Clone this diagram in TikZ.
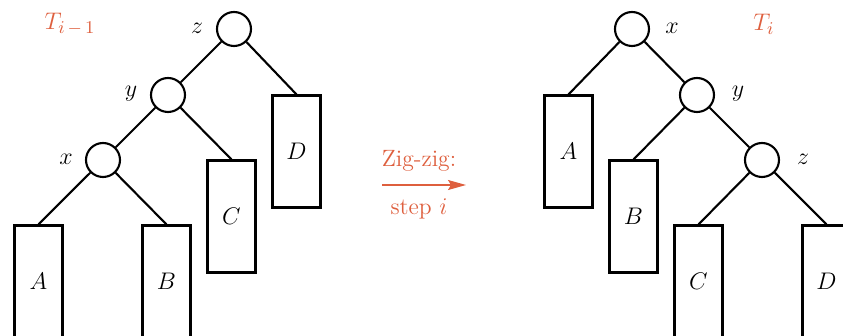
\documentclass[tikz,border=0pt]{standalone}
\usetikzlibrary{arrows.meta}
\definecolor{accent}{RGB}{222,95,62}
\begin{document}
\begin{tikzpicture}[x=0.5pt,y=-0.5pt,
  every node/.style={font=\fontsize{12.5}{15}\selectfont},
  vert/.style={circle,draw,line width=1.05pt,minimum size=17pt,inner sep=0pt},
  sub/.style={rectangle,draw,line width=1.05pt,minimum width=24pt,minimum height=56pt,inner sep=0pt},
  edge/.style={line width=1.05pt},
  lab/.style={inner sep=0pt},
  arrlab/.style={inner sep=0pt,text=accent,font=\fontsize{11.8}{14}\selectfont}]
\useasboundingbox (0,0) rectangle (843,336);
\clip (0,0) rectangle (843,336);
% left tree
\node[vert] (lz) at (234,29) {};
\node[vert] (ly) at (168,95) {};
\node[vert] (lx) at (103,160) {};
\node[sub] (lA) at (38.5,281.5) {$A$};
\node[sub] (lB) at (166.5,281.5) {$B$};
\node[sub] (lC) at (231.5,216.5) {$C$};
\node[sub] (lD) at (296.5,151.5) {$D$};
\node[lab] (lzl) at (197,28) {$z$};
\node[lab] (lyl) at (131,94) {$y$};
\node[lab] (lxl) at (66,159) {$x$};
\node[lab,text=accent] (lT) at (70,24) {$T_{i\,-\,1}$};
\draw[edge] (lz) -- (ly);
\draw[edge] (lz) -- (lD.north);
\draw[edge] (ly) -- (lx);
\draw[edge] (ly) -- (lC.north);
\draw[edge] (lx) -- (lA.north);
\draw[edge] (lx) -- (lB.north);
% arrow
\coordinate (a1) at (382,185);
\coordinate (a2) at (466,185);
\draw[accent,line width=0.6pt,-{Stealth[length=9pt,width=5pt,inset=1.5pt]}] (a1) -- (a2);
\node[arrlab] (zz) at (419,161) {Zig-zig:};
\node[arrlab] (st) at (419,209) {step $i$};
% right tree
\node[vert] (rx) at (632,29) {};
\node[vert] (ry) at (697,95) {};
\node[vert] (rz) at (762,160) {};
\node[sub] (rA) at (568.5,151.5) {$A$};
\node[sub] (rB) at (633.5,216.5) {$B$};
\node[sub] (rC) at (698.5,281.5) {$C$};
\node[sub] (rD) at (826.5,281.5) {$D$};
\node[lab] (rxl) at (672,28) {$x$};
\node[lab] (ryl) at (738,94) {$y$};
\node[lab] (rzl) at (803,159) {$z$};
\node[lab,text=accent] (rT) at (764,24) {$T_{i}$};
\draw[edge] (rx) -- (rA.north);
\draw[edge] (rx) -- (ry);
\draw[edge] (ry) -- (rB.north);
\draw[edge] (ry) -- (rz);
\draw[edge] (rz) -- (rC.north);
\draw[edge] (rz) -- (rD.north);
\end{tikzpicture}
\end{document}
